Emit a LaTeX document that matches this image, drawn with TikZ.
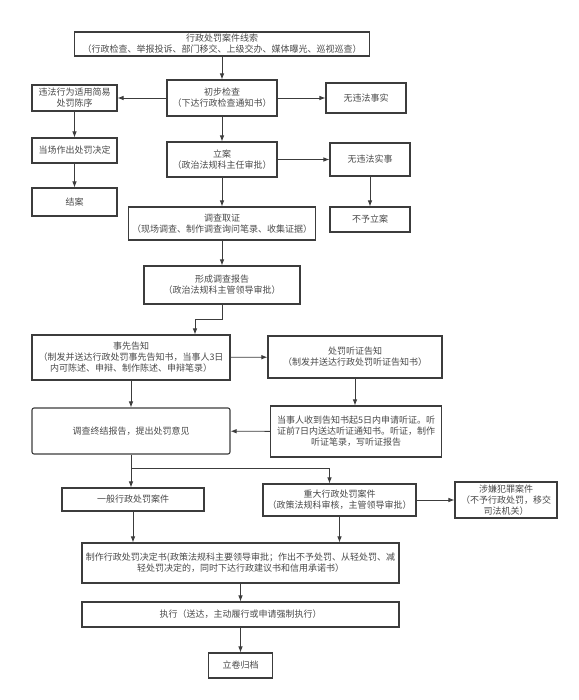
\documentclass[tikz,border=0pt]{standalone}
\usepackage{fontspec}
\setmainfont{Noto Sans CJK SC}
\usepackage{tikz}
\usetikzlibrary{arrows.meta}
\definecolor{linegray}{HTML}{3C3C3C}
\definecolor{textgray}{HTML}{4A4A4A}

\begin{document}
\begin{tikzpicture}[->,>={Latex[length=6pt,width=4.6pt]},x=1pt,y=-1pt,linegray,line width=0.9pt]
                \tikzstyle{box}=[draw=linegray,line width=1.1pt,fill=white,text=textgray,align=center,inner sep=1pt,font=\fontsize{9}{11}\selectfont]
                \useasboundingbox (0,0) rectangle (578,700);

                \node[box, minimum width=295pt, minimum height=24pt] (clue)    at (222,44)    {行政处罚案件线索\\（行政检查、举报投诉、部门移交、上级交办、媒体曝光、巡视巡查）};
                \node[box, minimum width=110pt, minimum height=36pt] (check)   at (222,98)    {初步检查\\（下达行政检查通知书）};
                \node[box, minimum width=85pt,  minimum height=26pt] (simple)  at (74.5,98)   {违法行为适用简易\\处罚陈序};
                \node[box, minimum width=80pt,  minimum height=30pt] (nofact)  at (366,98)    {无违法事实};
                \node[box, minimum width=85pt,  minimum height=25pt] (spot)    at (74.5,150.5) {当场作出处罚决定};
                \node[box, minimum width=85pt,  minimum height=28pt] (close)   at (74.5,202)  {结案};
                \node[box, minimum width=110pt, minimum height=35pt] (file)    at (222,159.5) {立案\\（政治法规科主任审批）};
                \node[box, minimum width=80pt,  minimum height=33pt] (nocase)  at (370,159.5) {无违法实事};
                \node[box, minimum width=80pt,  minimum height=25pt] (nofile)  at (370,219.5) {不予立案};
                \node[box, minimum width=187pt, minimum height=33pt] (evid)    at (222,223.5) {调查取证\\（现场调查、制作调查询问笔录、收集证据）};
                \node[box, minimum width=156pt, minimum height=38pt] (report)  at (222,285)   {形成调查报告\\（政治法规科主管领导审批）};
                \node[box, minimum width=198pt, minimum height=45pt] (notice)  at (131,357.5) {事先告知\\（制发并送达行政处罚事先告知书，当事人3日\\内可陈述、申辩、制作陈述、申辩笔录）};
                \node[box, minimum width=174pt, minimum height=42pt] (hear)    at (355,357)   {处罚听证告知\\（制发并送达行政处罚听证告知书）};
                \node[box, minimum width=171pt, minimum height=51pt] (hearing) at (356,431.5) {当事人收到告知书起5日内申请听证。听\\证前7日内送达听证通知书。听证，制作\\听证笔录，写听证报告};
                \node[box, rounded corners=2pt, minimum width=198pt, minimum height=46pt] (final) at (131,431) {调查终结报告，提出处罚意见};
                \node[box, minimum width=142pt, minimum height=23pt] (normal)  at (133,499.5) {一般行政处罚案件};
                \node[box, minimum width=153pt, minimum height=32pt] (major)   at (339.5,500) {重大行政处罚案件\\（政策法规科审核，主管领导审批）};
                \node[box, minimum width=102pt, minimum height=36pt] (crime)   at (506,500)   {涉嫌犯罪案件\\（不予行政处罚，移交\\司法机关）};
                \node[box, minimum width=317pt, minimum height=40pt] (decide)  at (240.5,563) {制作行政处罚决定书(政策法规科主要领导审批；作出不予处罚、从轻处罚、减\\轻处罚决定的，同时下达行政建议书和信用承诺书）};
                \node[box, minimum width=317pt, minimum height=25pt] (exec)    at (240.5,614.5) {执行（送达，主动履行或申请强制执行）};
                \node[box, minimum width=64pt,  minimum height=25pt] (archive) at (240.5,665.5) {立卷归档};

                \coordinate (split) at (final.south |- 0,468);

                \draw (clue) -- (check);
                \draw (check) -- (simple);
                \draw (check) -- (nofact);
                \draw (check) -- (file);
                \draw (simple) -- (spot);
                \draw (spot) -- (close);
                \draw (file) -- (nocase);
                \draw (nocase) -- (nofile);
                \draw (file) -- (evid);
                \draw (evid) -- (report);
                \draw (report.south) -- ++(0,15) -| ([xshift=64pt]notice.north);
                \draw (notice) -- (hear);
                \draw (hear.south) -- (hear.south |- hearing.north);
                \draw (hearing) -- (final);
                \draw (notice) -- (final);
                \draw (final.south) -- (final.south |- normal.north);
                \draw (split) -| ([xshift=-10pt]major.north);
                \draw (major) -- (crime);
                \draw (normal.south) -- (normal.south |- decide.north);
                \draw (major.south) -- (major.south |- decide.north);
                \draw (decide) -- (exec);
                \draw (exec) -- (archive);
            \end{tikzpicture}
\end{document}
